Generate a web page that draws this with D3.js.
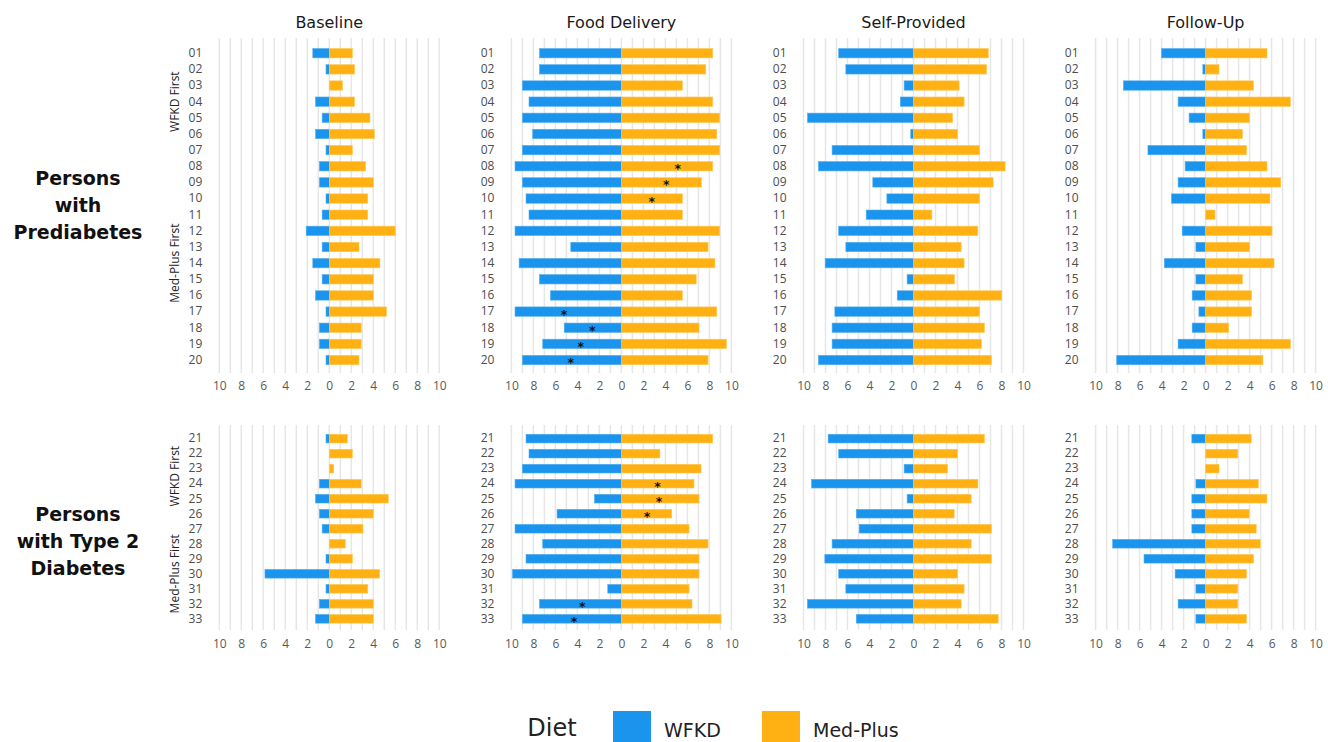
<!DOCTYPE html>
<html>
<head>
<meta charset="utf-8">
<script src="https://cdn.jsdelivr.net/npm/d3@7"></script>
<style>
  html, body { margin: 0; padding: 0; background: #fff; }
  svg { display: block; }
</style>
</head>
<body>
<script>
// ---------------- DATA ----------------
const phases = ["Baseline", "Food Delivery", "Self-Provided", "Follow-Up"];
const diets = ["WFKD", "Med-Plus"];
const idsPre = ["01","02","03","04","05","06","07","08","09","10","11","12","13","14","15","16","17","18","19","20"];
const idsT2  = ["21","22","23","24","25","26","27","28","29","30","31","32","33"];
const xTicks = [-10, -8, -6, -4, -2, 0, 2, 4, 6, 8, 10];

// Persons with Prediabetes (participants 01-20)
const baselinePreWFKD = [1.5,0.3,0,1.25,0.65,1.25,0.3,0.9,0.9,0.3,0.65,2.1,0.65,1.5,0.65,1.25,0.3,0.9,0.9,0.3];
const baselinePreMed  = [2.1,2.3,1.2,2.3,3.7,4.1,2.1,3.3,4.0,3.5,3.5,6.0,2.7,4.6,4.0,4.0,5.2,2.9,2.9,2.7];
const foodPreWFKD     = [7.45,7.45,9.0,8.4,9.0,8.06,9.0,9.67,9.0,8.67,8.4,9.67,4.6,9.3,7.45,6.45,9.67,5.2,7.15,9.0];
const foodPreMed      = [8.3,7.67,5.55,8.3,8.94,8.67,8.94,8.3,7.27,5.55,5.55,8.94,7.88,8.5,6.8,5.55,8.67,7.06,9.55,7.88];
const selfPreWFKD     = [6.8,6.15,0.85,1.2,9.64,0.25,7.4,8.64,3.7,2.42,4.3,6.8,6.15,8.03,0.58,1.48,7.15,7.4,7.4,8.64];
const selfPreMed      = [6.8,6.64,4.15,4.6,3.55,4.0,6.0,8.33,7.24,6.0,1.67,5.85,4.33,4.6,3.73,8.03,6.0,6.45,6.18,7.09];
const followPreWFKD   = [4.0,0.25,7.47,2.5,1.5,0.25,5.24,1.86,2.5,3.1,0,2.13,0.88,3.75,0.88,1.22,0.61,1.22,2.5,8.08];
const followPreMed    = [5.58,1.22,4.36,7.71,4.0,3.35,3.72,5.58,6.83,5.85,0.85,6.04,4.0,6.22,3.35,4.18,4.18,2.1,7.71,5.21];

// Persons with Type 2 Diabetes (participants 21-33)
const baselineT2WFKD  = [0.3,0,0,0.9,1.25,0.9,0.65,0,0.3,5.85,0.3,0.9,1.25];
const baselineT2Med   = [1.64,2.1,0.4,2.9,5.36,4.0,3.06,1.45,2.1,4.58,3.5,4.0,4.0];
const foodT2WFKD      = [8.67,8.4,9.0,9.67,2.45,5.85,9.67,7.15,8.67,9.9,1.24,7.45,9.0];
const foodT2Med       = [8.3,3.5,7.24,6.6,7.06,4.58,6.15,7.88,7.06,7.06,6.15,6.42,9.06];
const selfT2WFKD      = [7.76,6.8,0.85,9.27,0.58,5.2,4.94,7.4,8.06,6.8,6.15,9.64,5.2];
const selfT2Med       = [6.45,4.0,3.09,5.85,5.24,3.7,7.09,5.24,7.09,4.0,4.6,4.33,7.7];
const followT2WFKD    = [1.25,0,0,0.88,1.25,1.25,1.25,8.45,5.6,2.77,0.88,2.5,0.88];
const followT2Med     = [4.15,2.93,1.22,4.79,5.58,3.96,4.6,4.97,4.36,3.72,2.93,2.93,3.72];

// Asterisk annotations (value position along the axis, in data units)
const starsPre = [
  {phase: "Food Delivery", id: "08", value: 5.12},
  {phase: "Food Delivery", id: "09", value: 4.07},
  {phase: "Food Delivery", id: "10", value: 2.77},
  {phase: "Food Delivery", id: "17", value: -5.21},
  {phase: "Food Delivery", id: "18", value: -2.65},
  {phase: "Food Delivery", id: "19", value: -3.7},
  {phase: "Food Delivery", id: "20", value: -4.6}
];
const starsT2 = [
  {phase: "Food Delivery", id: "24", value: 3.28},
  {phase: "Food Delivery", id: "25", value: 3.43},
  {phase: "Food Delivery", id: "26", value: 2.32},
  {phase: "Food Delivery", id: "32", value: -3.55},
  {phase: "Food Delivery", id: "33", value: -4.31}
];

// Order groups (vertical labels in first column)
const groupsPre = [
  {label: "WFKD First", from: "01", to: "07"},
  {label: "Med-Plus First", from: "08", to: "20"}
];
const groupsT2 = [
  {label: "WFKD First", from: "21", to: "26"},
  {label: "Med-Plus First", from: "27", to: "33"}
];

const rowLabelPre = ["Persons", "with", "Prediabetes"];
const rowLabelT2 = ["Persons", "with Type 2", "Diabetes"];

// ---------------- STYLE / LAYOUT ----------------
const colors = {"WFKD": "#1a94ec", "Med-Plus": "#ffb114"};
const strokes = {"WFKD": "#52aef0", "Med-Plus": "#ffc850"};
const W = 1328, H = 742;
const uiFont = "'DejaVu Sans', Verdana, sans-serif";
const tickFont = "'Open Sans', 'Noto Sans', sans-serif";

const svg = d3.select("body").append("svg").attr("width", W).attr("height", H);

const panelX = d3.scalePoint().domain(phases).range([329.3, 1205.6]);
const halfW = 110;
const xFor = p => d3.scaleLinear().domain([-10, 10]).range([panelX(p) - halfW, panelX(p) + halfW]);

// titles
svg.append("g").selectAll("text").data(phases).join("text")
  .attr("x", d => panelX(d)).attr("y", 28)
  .attr("text-anchor", "middle")
  .style("font-family", uiFont).style("font-size", "16px").style("fill", "#1a1a1a")
  .text(d => d);

const sections = [
  {ids: idsPre,
   wfkd: [baselinePreWFKD, foodPreWFKD, selfPreWFKD, followPreWFKD],
   med:  [baselinePreMed, foodPreMed, selfPreMed, followPreMed],
   yRange: [41.75, 371.5], gridTop: 38, gridBottom: 373, axisY: 372,
   stars: starsPre, groups: groupsPre, label: rowLabelPre, labelY: 205},
  {ids: idsT2,
   wfkd: [baselineT2WFKD, foodT2WFKD, selfT2WFKD, followT2WFKD],
   med:  [baselineT2Med, foodT2Med, selfT2Med, followT2Med],
   yRange: [427.95, 629.45], gridTop: 425, gridBottom: 630, axisY: 630,
   stars: starsT2, groups: groupsT2, label: rowLabelT2, labelY: 541}
];

sections.forEach(sec => {
  const y = d3.scaleBand().domain(sec.ids).range(sec.yRange).padding(0.42);

  phases.forEach((phase, pi) => {
    const x = xFor(phase);
    const g = svg.append("g");

    // gridlines
    g.append("g").selectAll("line").data(d3.range(-10, 11)).join("line")
      .attr("x1", d => x(d)).attr("x2", d => x(d))
      .attr("y1", sec.gridTop).attr("y2", sec.gridBottom)
      .attr("stroke", "#e6e6e6").attr("stroke-width", 1.5);

    // bars
    const rows = sec.ids.map((id, i) => ({id, wfkd: sec.wfkd[pi][i], med: sec.med[pi][i]}));
    g.append("g").selectAll("rect").data(rows.filter(d => d.wfkd > 0)).join("rect")
      .attr("x", d => x(-d.wfkd)).attr("width", d => x(0) - x(-d.wfkd))
      .attr("y", d => y(d.id)).attr("height", y.bandwidth())
      .attr("fill", colors["WFKD"]).attr("stroke", strokes["WFKD"]).attr("stroke-width", 0.6);
    g.append("g").selectAll("rect").data(rows.filter(d => d.med > 0)).join("rect")
      .attr("x", x(0)).attr("width", d => x(d.med) - x(0))
      .attr("y", d => y(d.id)).attr("height", y.bandwidth())
      .attr("fill", colors["Med-Plus"]).attr("stroke", strokes["Med-Plus"]).attr("stroke-width", 0.6);

    // asterisks
    g.append("g").selectAll("text").data(sec.stars.filter(s => s.phase === phase)).join("text")
      .attr("x", d => x(d.value)).attr("y", d => y(d.id) + y.bandwidth() / 2 + 7)
      .attr("text-anchor", "middle")
      .style("font-family", uiFont).style("font-size", "12.5px").style("font-weight", "bold").style("fill", "#111")
      .text("*");

    // y axis (participant ids)
    const ya = g.append("g").attr("transform", `translate(${x(-10)},0)`)
      .call(d3.axisLeft(y).tickSize(0).tickPadding(17));
    ya.select(".domain").remove();
    ya.selectAll("text").style("font-family", tickFont).style("font-size", "12px").style("fill", "#4d4d4d");

    // x axis
    const xa = g.append("g").attr("transform", `translate(0,${sec.axisY})`)
      .call(d3.axisBottom(x).tickValues(xTicks).tickFormat(d => Math.abs(d)).tickSize(0).tickPadding(9));
    xa.select(".domain").remove();
    xa.selectAll("text").style("font-family", tickFont).style("font-size", "12px").style("fill", "#595959");
  });

  // vertical group labels in first column
  const x0 = xFor(phases[0]);
  svg.append("g").selectAll("text").data(sec.groups).join("text")
    .attr("transform", d => {
      const cy = (y(d.from) + y(d.to) + y.bandwidth()) / 2;
      return `translate(${x0(-10) - 45},${cy}) rotate(-90)`;
    })
    .attr("text-anchor", "middle").attr("dy", "0.35em")
    .style("font-family", tickFont).style("font-size", "12px").style("fill", "#222")
    .text(d => d.label);

  // row section label
  const t = svg.append("text").attr("text-anchor", "middle")
    .style("font-family", uiFont).style("font-size", "19px").style("font-weight", "bold").style("fill", "#111");
  sec.label.forEach((line, i) => {
    t.append("tspan").attr("x", 78).attr("y", sec.labelY + (i - 1) * 27 + 7).text(line);
  });
});

// legend
const legend = svg.append("g");
legend.append("text").attr("x", 552).attr("y", 736)
  .attr("text-anchor", "middle")
  .style("font-family", uiFont).style("font-size", "24px").style("fill", "#222").text("Diet");
const legendX = d3.scalePoint().domain(diets).range([613, 762]);
const li = legend.selectAll("g.item").data(diets).join("g").attr("class", "item")
  .attr("transform", d => `translate(${legendX(d)},711)`);
li.append("rect").attr("width", 38).attr("height", 38).attr("fill", d => colors[d]);
li.append("text").attr("x", 51).attr("y", 25.5)
  .style("font-family", uiFont).style("font-size", "19px").style("fill", "#222").text(d => d);
</script>
</body>
</html>
